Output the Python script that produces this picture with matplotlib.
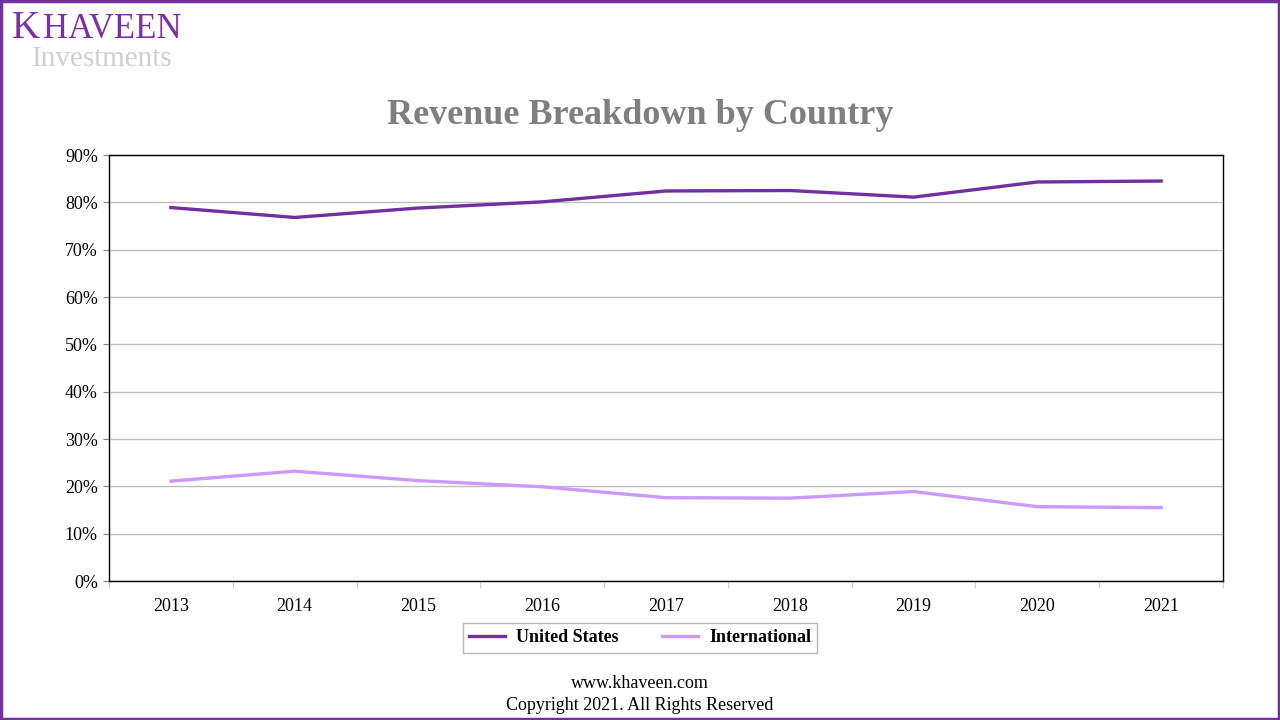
import matplotlib.pyplot as plt
from matplotlib.patches import Rectangle
from matplotlib.ticker import FuncFormatter

years = ["2013", "2014", "2015", "2016", "2017", "2018", "2019", "2020", "2021"]
united_states = [78.9, 76.8, 78.8, 80.1, 82.4, 82.5, 81.1, 84.3, 84.5]
international = [21.1, 23.2, 21.2, 19.9, 17.6, 17.5, 18.9, 15.7, 15.5]

serif = ["Liberation Serif", "DejaVu Serif"]
plt.rcParams["font.family"] = serif

fig = plt.figure(figsize=(12.8, 7.2), dpi=100)
ax = fig.add_axes([109 / 1280, 1 - 581 / 720, 1114 / 1280, 426 / 720])

x = list(range(len(years)))
ax.plot(x, united_states, color="#7030A0", lw=2.4, label="United States")
ax.plot(x, international, color="#CC99FF", lw=2.4, label="International")

ax.set_xlim(-0.5, len(years) - 0.5)
ax.set_ylim(0, 90)
ax.set_yticks(range(0, 91, 10))
ax.yaxis.set_major_formatter(FuncFormatter(lambda v, p: f"{v:.0f}%"))
ax.set_xticks(x)
ax.set_xticklabels(years)
ax.set_xticks([i - 0.5 for i in range(len(years) + 1)], minor=True)
ax.tick_params(axis="x", which="major", length=0, pad=12, labelsize=13)
ax.tick_params(axis="x", which="minor", length=5, color="#BFBFBF", direction="out")
ax.tick_params(axis="y", length=4, color="#7F7F7F", labelsize=13, pad=4)
ax.grid(axis="y", color="#BFBFBF", lw=1)
ax.set_axisbelow(True)
for s in ax.spines.values():
    s.set_color("#000000")
    s.set_linewidth(1)

leg = fig.legend(loc="center", bbox_to_anchor=(640 / 1280, 1 - 638 / 720), ncol=2,
                 frameon=True, fancybox=False, edgecolor="#A6A6A6",
                 prop={"family": serif, "weight": "bold", "size": 13},
                 handlelength=2.0, handletextpad=0.6, columnspacing=2.4, borderpad=0.35)
leg.get_frame().set_linewidth(1)

fig.text(0.5, 1 - 115 / 720, "Revenue Breakdown by Country", ha="center", va="center",
         fontsize=26, color="#7F7F7F", fontweight="bold")

# logo: small caps style
fig.text(12 / 1280, 1 - 38 / 720, "K", ha="left", va="baseline", fontsize=28,
         color="#7B2FA8")
fig.text(43 / 1280, 1 - 38 / 720, "HAVEEN", ha="left", va="baseline", fontsize=25,
         color="#7B2FA8")
fig.text(32 / 1280, 1 - 66 / 720, "Investments", ha="left", va="baseline", fontsize=21,
         color="#CFCFCF")
fig.text(0.5, 1 - 683 / 720, "www.khaveen.com", ha="center", va="center", fontsize=13)
fig.text(0.5, 1 - 705 / 720, "Copyright 2021. All Rights Reserved", ha="center",
         va="center", fontsize=13)

fig.patches.append(Rectangle((0.001, 0.002), 0.998, 0.996, transform=fig.transFigure,
                             fill=False, edgecolor="#7030A0", lw=2.5))

fig.savefig("out.png", dpi=100, facecolor="white")
